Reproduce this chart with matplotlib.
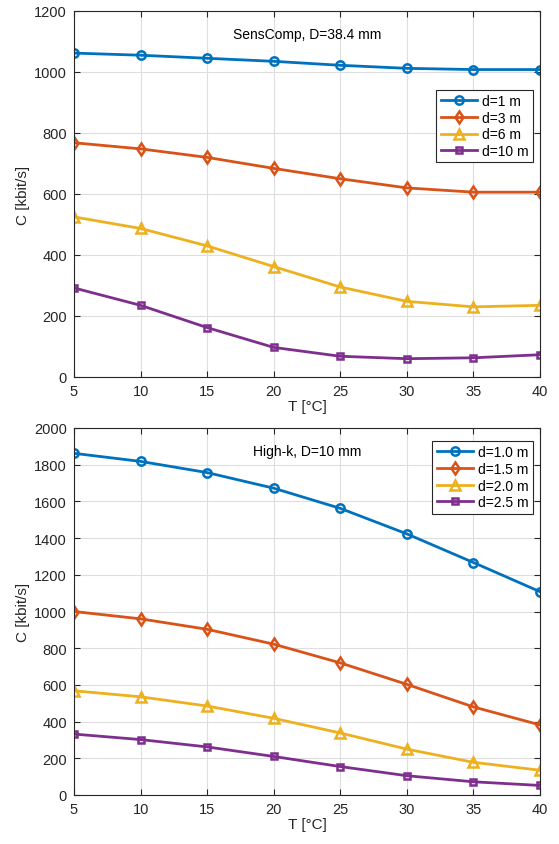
import matplotlib
matplotlib.use('Agg')
import matplotlib.pyplot as plt

plt.rcParams['font.family'] = ['Liberation Sans', 'DejaVu Sans']

# temperature axis shared by both panels
T = [5, 10, 15, 20, 25, 30, 35, 40]

# SensComp, D=38.4 mm
sens_labels = ['d=1 m', 'd=3 m', 'd=6 m', 'd=10 m']
sens_d1 = [1062, 1055, 1045, 1035, 1022, 1012, 1008, 1008]
sens_d3 = [768, 748, 720, 684, 650, 620, 606, 606]
sens_d6 = [525, 487, 430, 362, 295, 248, 230, 235]
sens_d10 = [292, 235, 162, 97, 68, 60, 63, 73]

# High-k, D=10 mm
hk_labels = ['d=1.0 m', 'd=1.5 m', 'd=2.0 m', 'd=2.5 m']
hk_d10 = [1862, 1818, 1757, 1672, 1562, 1423, 1267, 1108]
hk_d15 = [1000, 960, 903, 822, 720, 603, 480, 382]
hk_d20 = [568, 535, 485, 418, 338, 250, 178, 135]
hk_d25 = [332, 302, 262, 210, 155, 105, 72, 52]

colors = ['#0072BD', '#D95319', '#EDB120', '#7E2F8E']
markers = ['o', 'd', '^', 's']
sizes = [6, 6.5, 6.5, 5]
dark = '#262626'

fig = plt.figure(figsize=(5.59, 8.45), dpi=100)
W, H = 559, 845
ax1 = fig.add_axes([74 / W, 1 - 378 / H, 466 / W, 366 / H])
ax2 = fig.add_axes([74 / W, 1 - 796 / H, 466 / W, 367 / H])


def panel(ax, series, labels, ymax, ystep, title, legend_anchor):
    for y, lab, c, m, s in zip(series, labels, colors, markers, sizes):
        ax.plot(T, y, color=c, lw=2, marker=m, ms=s,
                mfc='none', mec=c, mew=1.8, label=lab)
    ax.set_xlim(5, 40)
    ax.set_ylim(0, ymax)
    ax.set_xticks(T)
    ax.set_yticks(range(0, ymax + 1, ystep))
    ax.grid(True, color='#dedede', lw=0.8)
    ax.set_axisbelow(True)
    ax.tick_params(direction='in', length=4, colors=dark, labelsize=10.5,
                   top=True, right=True, pad=5)
    for s in ax.spines.values():
        s.set_color(dark)
        s.set_linewidth(0.8)
    ax.set_xlabel('T [°C]', fontsize=11, color=dark, labelpad=1)
    ax.set_ylabel('C [kbit/s]', fontsize=11, color=dark, labelpad=3)
    ax.text(0.5, 0.937, title, transform=ax.transAxes, ha='center', va='center',
            fontsize=10, color='black')
    leg = ax.legend(loc='upper right', bbox_to_anchor=legend_anchor, fontsize=10,
                    frameon=True, fancybox=False, edgecolor=dark, framealpha=1,
                    handlelength=2.6, borderpad=0.3, labelspacing=0.2,
                    handletextpad=0.4, borderaxespad=0)
    leg.get_frame().set_linewidth(0.8)


panel(ax1, [sens_d1, sens_d3, sens_d6, sens_d10], sens_labels, 1200, 200,
      'SensComp, D=38.4 mm', (0.985, 0.785))
panel(ax2, [hk_d10, hk_d15, hk_d20, hk_d25], hk_labels, 2000, 200,
      'High-k, D=10 mm', (0.985, 0.965))

fig.savefig('out.png', dpi=100, facecolor='white')
